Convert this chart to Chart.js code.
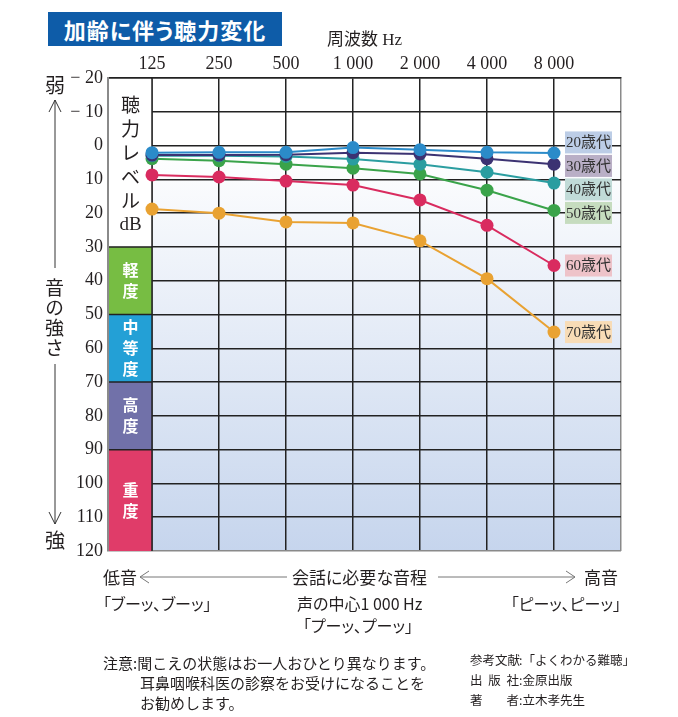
<!DOCTYPE html>
<html lang="ja">
<head>
<meta charset="utf-8">
<script src="https://cdn.jsdelivr.net/npm/chart.js@4.4.1/dist/chart.umd.min.js"></script>
<style>
  body { margin: 0; background: #fff; }
  #wrap { position: relative; width: 678px; height: 717px; overflow: hidden;
          font-family: "Noto Sans CJK JP", sans-serif; color: #231f20; }
  #chart { position: absolute; left: 0; top: 0; }
  #marks { position: absolute; left: 0; top: 0; pointer-events: none; }
  .t { position: absolute; white-space: nowrap; line-height: 1; font-feature-settings: "palt"; }
  .n { position: absolute; white-space: nowrap; line-height: 1; }
  #title { left: 48px; top: 12px; width: 234px; height: 34px; background: #0e5ca8; color: #fff;
           font-weight: 700; font-size: 22px; letter-spacing: 1px; line-height: 34px; text-align: center; }
  .lab { display: inline-block; width: 49px; text-align-last: justify; }
</style>
</head>
<body>
<div id="wrap">
  <canvas id="chart" width="678" height="717"></canvas>
  <svg id="marks" width="678" height="717">
    <g stroke="#333" stroke-width="1" fill="none">
      <polyline points="49,112 55,100 61,112"/>
      <line x1="55" y1="100" x2="55" y2="268"/>
      <line x1="55" y1="364" x2="55" y2="524"/>
      <polyline points="49,512 55,524 61,512"/>
    </g>
    <g stroke="#777" stroke-width="1" fill="none">
      <polyline points="149,571 140,577 149,583"/>
      <line x1="140" y1="577" x2="287" y2="577"/>
      <line x1="438" y1="577" x2="575" y2="577"/>
      <polyline points="566,571 575,577 566,583"/>
    </g>
  </svg>

  <div class="t" id="title">加齢に伴う聴力変化</div>

  <div class="t" style="left:45px;top:75px;font-size:20px;">弱</div>
  <div class="t" style="left:45px;top:278px;font-size:19px;writing-mode:vertical-rl;letter-spacing:1px;">音の強さ</div>
  <div class="t" style="left:45px;top:530px;font-size:20px;">強</div>

  <div class="t" style="left:103px;top:568px;font-size:17px;">低音</div>
  <div class="t" style="left:292px;top:568px;font-size:17px;">会話に必要な音程</div>
  <div class="t" style="left:584px;top:568px;font-size:17px;">高音</div>

  <div class="t" style="left:103px;top:595px;font-size:16px;">「ブーッ、ブーッ」</div>
  <div class="t" style="left:297px;top:595px;font-size:16px;">声の中心1 000 Hz</div>
  <div class="t" style="left:303px;top:617px;font-size:16px;">「プーッ、プーッ」</div>
  <div class="t" style="right:57px;top:595px;font-size:16px;">「ピーッ、ピーッ」</div>

  <div class="n" style="left:103px;top:655px;font-size:15px;">注意:聞こえの状態はお一人おひとり異なります。</div>
  <div class="n" style="left:140px;top:675px;font-size:15px;">耳鼻咽喉科医の診察をお受けになることを</div>
  <div class="n" style="left:140px;top:695px;font-size:15px;">お勧めします。</div>

  <div class="n" style="left:470px;top:654px;font-size:12.5px;"><span class="lab">参考文献</span>:「よくわかる難聴」</div>
  <div class="n" style="left:470px;top:674px;font-size:12.5px;"><span class="lab">出版社</span>:金原出版</div>
  <div class="n" style="left:470px;top:694px;font-size:12.5px;"><span class="lab">著者</span>:立木孝先生</div>
</div>

<script>
const freqLabels = ["125", "250", "500", "1 000", "2 000", "4 000", "8 000"];
const ageLabels = ["20歳代", "30歳代", "40歳代", "50歳代", "60歳代", "70歳代"];

// hearing level in dB at each frequency
const age20 = [2.1, 2.0, 2.0, 0.6, 1.2, 2.0, 2.2];
const age30 = [2.8, 2.8, 2.7, 2.1, 2.5, 3.9, 5.5];
const age40 = [3.0, 3.0, 3.2, 4.0, 5.5, 7.9, 11.1];
const age50 = [3.9, 4.5, 5.5, 6.7, 8.4, 13.2, 19.2];
const age60 = [8.7, 9.3, 10.5, 11.7, 16.1, 23.6, 35.5];
const age70 = [18.8, 20.0, 22.6, 22.9, 28.2, 39.4, 55.2];

const ageColors = ["#2b8bc9", "#3b3272", "#2a9da0", "#3aa34a", "#d92b5f", "#e9a232"];
const tagColors = ["#bccde6", "#b9afc6", "#c1dbd8", "#c6dcbf", "#eec3c9", "#f8dcb6"];

// degree of hearing loss bands
const bandNames = ["軽度", "中等度", "高度", "重度"];
const bandFrom = [30, 50, 70, 90];
const bandTo = [50, 70, 90, 120];
const bandColors = ["#77bd43", "#23a0d6", "#7171a9", "#e03c69"];

const axisLabel = ["聴", "力", "レ", "ベ", "ル", "dB"];

const series = [age20, age30, age40, age50, age60, age70];

const paint = {
  id: "paint",
  beforeDraw(chart) {
    const { ctx, chartArea: a, scales: { x, y } } = chart;
    const x0 = x.getPixelForValue(0);
    const g = ctx.createLinearGradient(0, y.getPixelForValue(0), 0, a.bottom);
    g.addColorStop(0, "#ffffff");
    g.addColorStop(1, "#c6d5ed");
    ctx.save();
    ctx.fillStyle = g;
    ctx.fillRect(x0, a.top, a.right - x0, a.bottom - a.top);
    ctx.restore();
  },
  beforeDatasetsDraw(chart) {
    const { ctx, chartArea: a, scales: { x, y } } = chart;
    const x0 = x.getPixelForValue(0);
    const left = a.left + 1;
    ctx.save();
    // white label column
    ctx.fillStyle = "#fff";
    ctx.fillRect(left, y.getPixelForValue(-20) + 1, x0 - left, y.getPixelForValue(30) - y.getPixelForValue(-20) - 1);
    ctx.fillStyle = "#231f20";
    ctx.textAlign = "center";
    ctx.textBaseline = "middle";
    const cx = (left + x0) / 2;
    axisLabel.forEach((s, i) => {
      ctx.font = i === 5 ? '19px "Liberation Serif"' : '19px "Noto Sans CJK JP"';
      ctx.fillText(s, cx, y.getPixelForValue(-20) + 27 + i * 24);
    });
    // bands
    bandNames.forEach((name, i) => {
      const top = y.getPixelForValue(bandFrom[i]);
      const bot = y.getPixelForValue(bandTo[i]);
      ctx.fillStyle = bandColors[i];
      ctx.fillRect(left, top, x0 - left, bot - top);
      ctx.fillStyle = "#fff";
      ctx.font = 'bold 16px "Noto Sans CJK JP"';
      const chars = [...name];
      const mid = (top + bot) / 2;
      chars.forEach((c, k) => {
        ctx.fillText(c, cx, mid + (k - (chars.length - 1) / 2) * 21);
      });
      ctx.strokeStyle = "#222";
      ctx.lineWidth = 1.5;
      ctx.beginPath();
      ctx.moveTo(left, top);
      ctx.lineTo(x0, top);
      ctx.stroke();
    });
    ctx.beginPath();
    ctx.moveTo(x0, a.top);
    ctx.lineTo(x0, a.bottom);
    ctx.stroke();
    ctx.restore();
  },
  afterDatasetsDraw(chart) {
    const { ctx, scales: { x } } = chart;
    const last = freqLabels.length - 1;
    const ys = chart.data.datasets.map((d, i) => chart.getDatasetMeta(i).data[last].y);
    // push the tags apart so they do not overlap
    const gap = 23.5;
    for (let n = 0; n < 60; n++) {
      for (let i = 1; i < ys.length; i++) {
        const d = ys[i] - ys[i - 1];
        if (d < gap) {
          ys[i - 1] -= (gap - d) / 2;
          ys[i] += (gap - d) / 2;
        }
      }
    }
    const bx = x.getPixelForValue(last) + 11;
    ctx.save();
    ctx.textAlign = "center";
    ctx.textBaseline = "middle";
    ctx.font = '15px "Liberation Serif", "Noto Sans CJK JP"';
    ageLabels.forEach((s, i) => {
      ctx.fillStyle = tagColors[i];
      ctx.fillRect(bx, ys[i] - 11, 47, 22);
      ctx.fillStyle = "#333";
      ctx.fillText(s, bx + 23.5, ys[i] + 1);
    });
    ctx.restore();
  }
};

new Chart(document.getElementById("chart"), {
  type: "line",
  data: {
    datasets: series.map((vals, i) => ({
      label: ageLabels[i],
      data: vals.map((v, k) => ({ x: k, y: v })),
      borderColor: ageColors[i],
      backgroundColor: ageColors[i],
      borderWidth: 2,
      pointRadius: 6.5,
      pointBorderWidth: 0,
      clip: false
    }))
  },
  options: {
    responsive: false,
    devicePixelRatio: 1,
    animation: false,
    layout: { padding: { left: 0, top: 0, right: 57, bottom: 166 } },
    plugins: { legend: { display: false }, tooltip: { enabled: false } },
    scales: {
      x: {
        type: "linear",
        position: "top",
        min: -0.657,
        max: 7,
        afterBuildTicks: s => { s.ticks = [0, 1, 2, 3, 4, 5, 6, 7].map(v => ({ value: v })); },
        afterFit: s => { s.height = 78; },
        grid: {
          drawTicks: false,
          lineWidth: 1.5,
          color: c => (c.tick && c.tick.value === 7 ? "#8a8a8a" : "#222")
        },
        border: { color: "#222", width: 1.5 },
        ticks: {
          padding: 3,
          color: "#231f20",
          font: { family: "Liberation Serif", size: 18 },
          callback: v => freqLabels[v] || ""
        },
        title: {
          display: true,
          text: "周波数 Hz",
          color: "#231f20",
          font: { family: "'Liberation Serif', 'Noto Sans CJK JP'", size: 17 },
          padding: { top: 30, bottom: 0 }
        }
      },
      y: {
        reverse: true,
        min: -20,
        max: 120,
        afterFit: s => { s.width = 108; },
        grid: {
          drawTicks: false,
          lineWidth: 1.5,
          color: c => (c.tick && c.tick.value === 120 ? "#8a8a8a" : "#222")
        },
        border: { color: "#8a8a8a", width: 2 },
        ticks: {
          stepSize: 10,
          padding: 5,
          color: "#231f20",
          font: { family: "Liberation Serif", size: 18 },
          callback: v => (v < 0 ? "− " + Math.abs(v) : String(v))
        }
      }
    }
  },
  plugins: [paint]
});
</script>
</body>
</html>
